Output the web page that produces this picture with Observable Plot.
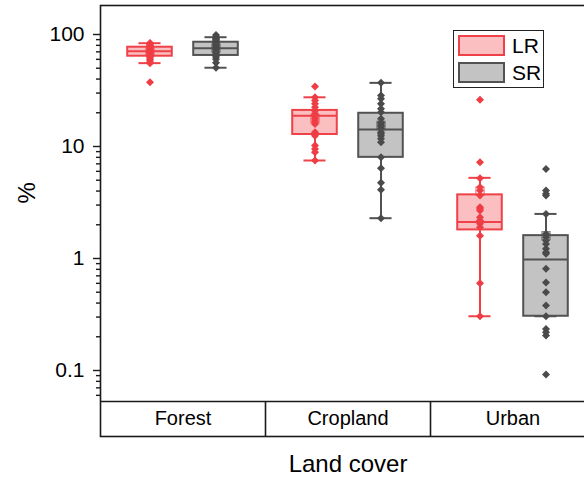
<!DOCTYPE html>
<html><head><meta charset="utf-8">
<script src="https://cdn.jsdelivr.net/npm/d3@7"></script>
<script src="https://cdn.jsdelivr.net/npm/@observablehq/plot@0.6"></script>
<style>
body{margin:0;background:#fff;font-family:"Liberation Sans",Arial,sans-serif;}
#wrap{position:relative;width:584px;height:480px;overflow:hidden;}
#wrap svg{overflow:hidden;}
#legend{position:absolute;left:453px;top:30px;width:91px;height:58px;border:1px solid #222;background:#fff;box-sizing:border-box;}
.item{position:absolute;left:4px;display:flex;align-items:center;}
.sw{width:47px;height:21px;box-sizing:border-box;border:2px solid;}
.lab{margin-left:7px;font-size:21px;color:#000;line-height:21px;}
</style></head><body>
<div id="wrap"></div>
<script>
// ---- data ----
const categories = ["Forest", "Cropland", "Urban"];
const series = ["LR", "SR"];
const yMajorTicks = [0.1, 1, 10, 100];
const yMinorTicks = [0.06,0.07,0.08,0.09, 0.2,0.3,0.4,0.5,0.6,0.7,0.8,0.9, 2,3,4,5,6,7,8,9, 20,30,40,50,60,70,80,90];

// raw points
const forestLR = [84, 83, 81, 80, 78, 77, 75, 74, 72, 71, 70, 69, 68, 66, 65, 64, 62, 60, 58, 55.5, 37.5];
const forestSR = [99, 95, 92, 90, 88, 86, 84, 82, 80, 78, 76, 75, 73, 71, 69, 67, 65, 63, 60, 56, 50.5];
const croplandLR = [34.4, 27.5, 25.8, 24.1, 22.4, 20.9, 19.6, 18.5, 17.7, 16.8, 15.9, 13.4, 13.0, 12.5, 10.2, 9.5, 8.9, 7.5];
const croplandSR = [37, 28.5, 26.7, 24.1, 21.7, 20.2, 17.7, 16.5, 16, 15.4, 15, 14.4, 13.4, 13, 12.5, 11.7, 10.9, 8.0, 6.4, 4.74, 4.1, 2.29];
const urbanLR = [26.1, 7.25, 5.2, 4.33, 4.05, 3.65, 2.87, 2.78, 2.68, 2.34, 2.18, 2.04, 1.9, 1.6, 0.6, 0.305];
const urbanSR = [6.3, 4.05, 3.78, 3.65, 2.5, 1.66, 1.55, 1.45, 1.35, 1.22, 1.14, 1.1, 0.81, 0.61, 0.5, 0.38, 0.305, 0.235, 0.22, 0.205, 0.092];

// box statistics (Forest, Cropland, Urban)
const lrLow  = [55.5, 7.5, 0.305];
const lrQ1   = [64, 12.8, 1.8];
const lrMed  = [71, 18.8, 2.12];
const lrQ3   = [77, 21, 3.7];
const lrHigh = [83.6, 27.5, 5.25];
const lrMean = [70, 17.7, 4.0];
const srLow  = [50.5, 2.29, 0.305];
const srQ1   = [65, 8.0, 0.305];
const srMed  = [75.5, 14.2, 0.98];
const srQ3   = [85.3, 19.8, 1.6];
const srHigh = [94.6, 37, 2.5];
const srMean = [76, 15.4, 1.6];

// ---- layout / style ----
const colors = {
  LR: {stroke: "#ef4148", fill: "#fbbfc1", dot: "#ef3d45"},
  SR: {stroke: "#525252", fill: "#c3c3c3", dot: "#4a4a4a"}
};
const seriesOffset = {LR: 0.3, SR: 0.7};
const boxHalf = 0.135, capHalf = 0.067;
const yMin = Math.pow(10, -1 - 66/112);   // bottom of category band
const bandTop = Math.pow(10, -1 - 31/112); // bottom of plotting area
const yMax = Math.pow(10, 2 + 29/112);

const pts = {LR: [forestLR, croplandLR, urbanLR], SR: [forestSR, croplandSR, urbanSR]};
const stats = {
  LR: {lo: lrLow, q1: lrQ1, med: lrMed, q3: lrQ3, hi: lrHigh, mean: lrMean},
  SR: {lo: srLow, q1: srQ1, med: srMed, q3: srQ3, hi: srHigh, mean: srMean}
};
const rows = [], points = [];
categories.forEach((c, g) => series.forEach(s => {
  const pos = g + seriesOffset[s];
  const st = stats[s];
  rows.push({cat: c, series: s, pos, lo: st.lo[g], q1: st.q1[g], med: st.med[g], q3: st.q3[g], hi: st.hi[g], mean: st.mean[g]});
  pts[s][g].forEach(v => points.push({cat: c, series: s, pos, v}));
}));
const sc = d => colors[d.series].stroke;
const sf = d => colors[d.series].fill;
const sd = d => colors[d.series].dot;
const axisColor = "#1a1a1a";

const chart = Plot.plot({
  width: 584, height: 480,
  marginLeft: 100, marginTop: 5, marginRight: -11, marginBottom: 44,
  x: {domain: [0, 3], range: [100, 595], axis: null},
  y: {type: "log", domain: [yMin, yMax], range: [436, 5], axis: null},
  style: {fontFamily: "Liberation Sans, Arial, sans-serif", fontSize: "20px", color: "#111", background: "#fff"},
  marks: [
    Plot.ruleX(rows, {x: "pos", y1: "lo", y2: "hi", stroke: sc, strokeWidth: 2}),
    Plot.ruleY(rows, {y: "lo", x1: d => d.pos - capHalf, x2: d => d.pos + capHalf, stroke: sc, strokeWidth: 2}),
    Plot.ruleY(rows, {y: "hi", x1: d => d.pos - capHalf, x2: d => d.pos + capHalf, stroke: sc, strokeWidth: 2}),
    Plot.rect(rows, {x1: d => d.pos - boxHalf, x2: d => d.pos + boxHalf, y1: "q1", y2: "q3", fill: sf, stroke: sc, strokeWidth: 2}),
    Plot.ruleY(rows, {y: "med", x1: d => d.pos - boxHalf, x2: d => d.pos + boxHalf, stroke: sc, strokeWidth: 2}),
    Plot.dot(points, {x: "pos", y: "v", symbol: "diamond2", r: 3.6, fill: sd, stroke: "none"}),
    Plot.dot(rows, {x: "pos", y: "mean", symbol: "square", r: 4.6, fill: "none", stroke: sc, strokeWidth: 1.2, strokeOpacity: 0.7}),
    Plot.frame({stroke: axisColor, strokeWidth: 1.6}),
    Plot.ruleY([bandTop], {stroke: axisColor, strokeWidth: 1.6}),
    Plot.ruleX([1, 2], {y1: () => yMin, y2: () => bandTop, stroke: axisColor, strokeWidth: 1.6}),
    Plot.text(categories, {x: (d, i) => i + 0.5, y: () => Math.sqrt(yMin * bandTop), text: d => d, fontSize: 20, fill: "#000"}),
    Plot.axisY({ticks: yMinorTicks, tickSize: 4, tickFormat: () => "", strokeWidth: 1.4, stroke: axisColor, label: null}),
    Plot.axisY({ticks: yMajorTicks, tickSize: 7, tickPadding: 9, tickFormat: d => String(d), strokeWidth: 1.4, stroke: axisColor, fontSize: 21, fill: "#000", label: null}),
    Plot.text(["%"], {frameAnchor: "left", y: () => Math.sqrt(bandTop * yMax), dx: -73, rotate: -90, fontSize: 24, fill: "#000"}),
    Plot.text(["Land cover"], {x: () => 1.5, frameAnchor: "bottom", dy: 35, fontSize: 24, fill: "#000"})
  ]
});
const wrap = document.getElementById("wrap");
wrap.appendChild(chart);

const legend = document.createElement("div");
legend.id = "legend";
series.forEach((s, i) => {
  const it = document.createElement("div");
  it.className = "item";
  it.style.top = (4 + i * 27) + "px";
  const sw = document.createElement("div");
  sw.className = "sw";
  sw.style.background = colors[s].fill;
  sw.style.borderColor = colors[s].stroke;
  const lab = document.createElement("span");
  lab.className = "lab";
  lab.textContent = s;
  it.appendChild(sw); it.appendChild(lab);
  legend.appendChild(it);
});
wrap.appendChild(legend);
</script>
</body></html>
